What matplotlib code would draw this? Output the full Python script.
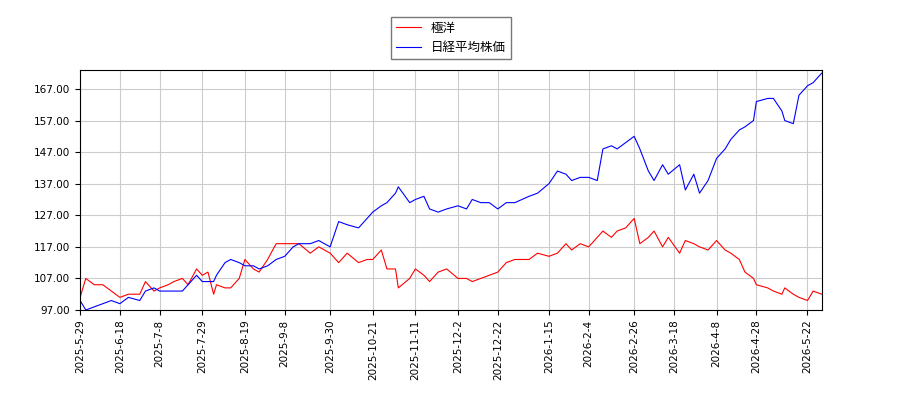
import matplotlib
matplotlib.use("Agg")
import matplotlib.pyplot as plt
import numpy as np
import pandas as pd

plt.rcParams['font.family'] = ['Noto Sans CJK JP', 'DejaVu Sans']

dates = ["2025-5-29", "2025-6-2", "2025-6-5", "2025-6-10", "2025-6-13", "2025-6-18", "2025-6-23", "2025-6-27",
         "2025-7-1", "2025-7-4", "2025-7-8", "2025-7-11", "2025-7-15", "2025-7-18", "2025-7-22", "2025-7-25",
         "2025-7-29", "2025-7-31", "2025-8-2", "2025-8-5", "2025-8-8", "2025-8-12", "2025-8-15", "2025-8-19",
         "2025-8-22", "2025-8-26", "2025-8-29", "2025-9-3", "2025-9-8", "2025-9-11", "2025-9-15", "2025-9-19",
         "2025-9-24", "2025-9-30", "2025-10-3", "2025-10-8", "2025-10-14", "2025-10-17", "2025-10-21", "2025-10-24",
         "2025-10-28", "2025-10-31", "2025-11-3", "2025-11-7", "2025-11-11", "2025-11-14", "2025-11-18", "2025-11-21",
         "2025-11-26", "2025-12-2", "2025-12-5", "2025-12-9", "2025-12-12", "2025-12-17", "2025-12-22", "2025-12-25",
         "2025-12-30", "2026-1-6", "2026-1-9", "2026-1-15", "2026-1-20", "2026-1-23", "2026-1-27", "2026-1-30",
         "2026-2-4", "2026-2-7", "2026-2-11", "2026-2-14", "2026-2-18", "2026-2-22", "2026-2-26", "2026-3-2",
         "2026-3-5", "2026-3-9", "2026-3-12", "2026-3-16", "2026-3-20", "2026-3-24", "2026-3-27", "2026-3-31",
         "2026-4-3", "2026-4-8", "2026-4-11", "2026-4-15", "2026-4-18", "2026-4-22", "2026-4-25", "2026-4-28",
         "2026-5-2", "2026-5-6", "2026-5-9", "2026-5-12", "2026-5-15", "2026-5-19", "2026-5-22", "2026-5-26",
         "2026-5-29"]

kyokuyo = [101, 107, 105, 105, 103, 101, 102, 102,
           106, 103, 104, 105, 106, 107, 105, 110,
           108, 109, 102, 105, 104, 104, 107, 113,
           110, 109, 113, 118, 118, 118, 118, 115,
           117, 115, 112, 115, 112, 113, 113, 116,
           110, 110, 104, 107, 110, 108, 106, 109,
           110, 107, 107, 106, 107, 108, 109, 112,
           113, 113, 115, 114, 115, 118, 116, 118,
           117, 120, 122, 120, 122, 123, 126, 118,
           120, 122, 117, 120, 115, 119, 118, 117,
           116, 119, 116, 115, 113, 109, 107, 105,
           104, 103, 102, 104, 102, 101, 100, 103,
           102]

nikkei = [100, 97, 98, 99, 100, 99, 101, 100,
          103, 104, 103, 103, 103, 103, 105, 108,
          106, 106, 106, 108, 112, 113, 112, 111,
          111, 110, 111, 113, 114, 117, 118, 118,
          119, 117, 125, 124, 123, 126, 128, 130,
          131, 134, 136, 131, 132, 133, 129, 128,
          129, 130, 129, 132, 131, 131, 129, 131,
          131, 133, 134, 137, 141, 140, 138, 139,
          139, 138, 148, 149, 148, 150, 152, 148,
          141, 138, 143, 140, 143, 135, 140, 134,
          138, 145, 148, 151, 154, 155, 157, 163,
          164, 164, 160, 157, 156, 165, 168, 169,
          172]

tick_labels = ["2025-5-29", "2025-6-18", "2025-7-8", "2025-7-29", "2025-8-19", "2025-9-8", "2025-9-30",
               "2025-10-21", "2025-11-11", "2025-12-2", "2025-12-22", "2026-1-15", "2026-2-4", "2026-2-26",
               "2026-3-18", "2026-4-8", "2026-4-28", "2026-5-22"]
y_ticks = [97, 107, 117, 127, 137, 147, 157, 167]


def trading_pos(ds):
    d = pd.to_datetime(ds).values.astype("datetime64[D]")
    return np.busday_count(d[0] if False else np.datetime64("2025-05-29"), d)


x = trading_pos(dates)
xt = trading_pos(tick_labels)

fig = plt.figure(figsize=(9, 4), dpi=100)
ax = fig.add_axes([0.089, 0.225, 0.824, 0.6])
ax.plot(x, kyokuyo, color="red", linewidth=0.8, label="極洋")
ax.plot(x, nikkei, color="blue", linewidth=0.8, label="日経平均株価")
ax.set_xlim(x[0], x[-1])
ax.set_ylim(97, 173)
ax.set_yticks(y_ticks)
ax.set_yticklabels([f"{v:.2f}" for v in y_ticks], fontsize=7.5, family="DejaVu Sans")
ax.set_xticks(xt)
ax.set_xticklabels(tick_labels, rotation=90, fontsize=7.5, family="DejaVu Sans")
ax.grid(True, color="#cccccc", linewidth=0.8)
ax.legend(loc="lower center", bbox_to_anchor=(0.5, 1.02), fontsize=9, fancybox=False, edgecolor="#555555")
fig.savefig("out.png", dpi=100)
